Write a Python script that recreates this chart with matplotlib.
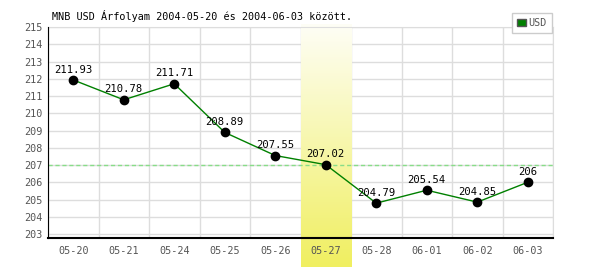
import numpy as np
import matplotlib
matplotlib.use('Agg')
import matplotlib.pyplot as plt
from matplotlib.patches import Patch

# adatok
dates = ['05-20', '05-21', '05-24', '05-25', '05-26', '05-27', '05-28', '06-01', '06-02', '06-03']
usd = [211.93, 210.78, 211.71, 208.89, 207.55, 207.02, 204.79, 205.54, 204.85, 206]
labels = ['211.93', '210.78', '211.71', '208.89', '207.55', '207.02', '204.79', '205.54', '204.85', '206']
ref_level = 207.02
highlight_idx = 5
yticks = list(range(203, 216))

plt.rcParams['font.family'] = 'DejaVu Sans Mono'
fs = 7.3

fig = plt.figure(figsize=(6, 2.7), dpi=100)
pos = [48 / 600, 1 - 238 / 270, 505 / 600, 211 / 270]

# háttér tengely: rács + kiemelés
ax = fig.add_axes(pos)
x = np.arange(len(dates))

grad = np.linspace(0, 1, 256).reshape(-1, 1)
cmap = matplotlib.colors.LinearSegmentedColormap.from_list('hl', ['#f0ef60', '#fefef6'])
ax.imshow(grad, extent=(highlight_idx - 0.5, highlight_idx + 0.5, 201.08, 215.12),
          origin='lower', aspect='auto', cmap=cmap, zorder=1, clip_on=False)

ax.set_xlim(-0.5, len(dates) - 0.5)
ax.set_ylim(202.77, 215)
ax.set_yticks(yticks)
ax.set_xticks(np.arange(-0.5, len(dates), 1))
ax.tick_params(length=0, labelbottom=False, labelleft=False)
ax.grid(True, color='#dddddd', linewidth=1)
ax.set_axisbelow(True)
for s in ax.spines.values():
    s.set_color('#dddddd')

# előtér tengely: vonalak, feliratok
ax2 = fig.add_axes(pos, facecolor='none', zorder=ax.get_zorder() + 1)
ax2.axhline(ref_level, color='#88dd88', linestyle=(0, (3, 2)), linewidth=1, zorder=2)
ax2.plot(x, usd, color='#008000', linewidth=1, zorder=3)
ax2.plot(x, usd, 'o', color='black', markersize=6, zorder=4)

for xi, yi, lab in zip(x, usd, labels):
    ax2.annotate(lab, (xi, yi), xytext=(0, 7.5), textcoords='offset points',
                 ha='center', va='center', fontsize=fs + 0.3, color='black', zorder=5)

ax2.set_xlim(-0.5, len(dates) - 0.5)
ax2.set_ylim(202.77, 215)
ax2.set_yticks(yticks)
ax2.set_xticks(x)
ax2.set_xticklabels(dates)
ax2.tick_params(axis='both', length=0, colors='#555555', labelsize=fs)
ax2.tick_params(axis='x', pad=6)
ax2.tick_params(axis='y', pad=4)
ax2.spines['top'].set_visible(False)
ax2.spines['right'].set_visible(False)
ax2.spines['left'].set_color('black')
ax2.spines['bottom'].set_color('black')
ax2.spines['bottom'].set_linewidth(1.5)

fig.text(52 / 600, 1 - 16 / 270, 'MNB USD Árfolyam 2004-05-20 és 2004-06-03 között.',
         fontsize=fs, va='center', ha='left', color='black')

leg = fig.legend(handles=[Patch(facecolor='#008000', edgecolor='#555555', label='USD')],
                 loc='upper right', bbox_to_anchor=(552 / 600, 1 - 13 / 270),
                 bbox_transform=fig.transFigure, fancybox=False, framealpha=1,
                 edgecolor='#cccccc', fontsize=fs, handlelength=0.8, handleheight=0.8,
                 handletextpad=0.3, borderpad=0.5, borderaxespad=0, labelcolor='#555555')

fig.savefig('out.png', dpi=100)
